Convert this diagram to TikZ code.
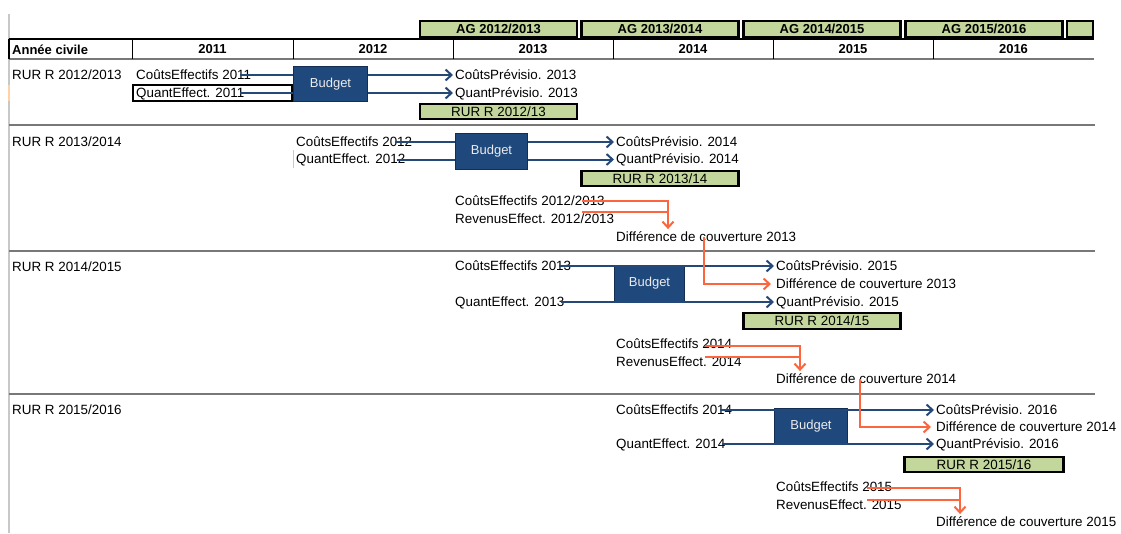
\documentclass[tikz,border=0pt]{standalone}
\usepackage{fontspec}
\setmainfont{Liberation Sans}
\usetikzlibrary{arrows.meta}

\definecolor{agreen}{RGB}{195,214,155}
\definecolor{budfill}{RGB}{31,73,125}
\definecolor{budline}{RGB}{20,45,82}
\definecolor{flowblue}{RGB}{36,72,120}
\definecolor{gaporange}{RGB}{252,102,62}
\definecolor{rulegray}{RGB}{120,120,120}
\definecolor{edgegray}{RGB}{200,200,200}

\tikzset{
  % glyphs are dropped a little so that the mid anchor sits on their visual centre
  txt/.style={anchor=mid west, inner sep=0pt,
    execute at begin node={\lower1.5pt\hbox\bgroup\fontsize{13.4}{16}\selectfont},
    execute at end node={\egroup}},
  hdr/.style={inner sep=0pt, font=\bfseries\fontsize{13}{15}\selectfont},
  agbox/.style={draw=black, line width=2.2pt, fill=agreen, inner sep=0pt,
    minimum width=157pt, minimum height=16pt, font=\bfseries\fontsize{13}{15}\selectfont},
  rurbox/.style={draw=black, line width=2.2pt, fill=agreen, inner sep=0pt,
    minimum width=157pt, minimum height=15pt, font=\fontsize{13.4}{16}\selectfont},
  budget/.style={draw=budline, line width=1.2pt, fill=budfill, text=white!92!black,
    inner sep=0pt, font=\fontsize{13}{15}\selectfont},
  flowline/.style={draw=flowblue, line width=2pt},
  flowarrow/.style={flowline, -{Straight Barb[length=6pt,width=11pt]}, shorten >=2pt},
  gapline/.style={draw=gaporange, line width=2pt},
  gaparrow/.style={gapline, -{Straight Barb[length=6pt,width=11pt]}, shorten >=2pt},
  sep/.style={draw=rulegray, line width=1.3pt},
}

\begin{document}
\begin{tikzpicture}[x=1pt,y=-1pt]
\useasboundingbox (0,0) rectangle (1121,533);

% ---------- frame and calendar header ----------
\draw[edgegray, line width=1.5pt] (9,14) -- (9,533);
\draw[orange!35, line width=1.5pt] (9,85) -- (9,101);
\draw[black, line width=1.2pt] (9,39) -- (1094,39);
\draw[rulegray, line width=2pt] (9,59) -- (1094,59);
\draw[black, line width=1.2pt] (9,39) -- (9,59);
\foreach \cx in {132,293,453,613,773,933}
  \draw[black, line width=1pt] (\cx,39) -- (\cx,59);

\node[hdr, anchor=west] (hyear) at (12,49.5) {Année civile};
\node[hdr] (y11) at (212.5,49.5) {2011};
\node[hdr] (y12) at (373,49.5) {2012};
\node[hdr] (y13) at (533,49.5) {2013};
\node[hdr] (y14) at (693,49.5) {2014};
\node[hdr] (y15) at (853,49.5) {2015};
\node[hdr] (y16) at (1013.5,49.5) {2016};

% academic years
\node[agbox] (ag1) at (498.5,29) {AG 2012/2013};
\node[agbox] (ag2) at (660,29) {AG 2013/2014};
\node[agbox] (ag3) at (822,29) {AG 2014/2015};
\node[agbox] (ag4) at (984,29) {AG 2015/2016};
\node[agbox, minimum width=26pt] (ag5) at (1080,29) {};

% section rules
\draw[sep] (9,125) -- (1095,125);
\draw[sep] (9,251) -- (1095,251);
\draw[sep] (9,394) -- (1095,394);

% ---------- RUR R 2012/2013 ----------
\node[txt] (sec1) at (12,75) {RUR R 2012/2013};
\node[txt] (ce11) at (136,75) {CoûtsEffectifs 2011};
\node[txt] (qe11) at (136,93) {QuantEffect. 2011};
\draw[black, line width=2pt] (133,85) rectangle (292,101);
\node[budget, minimum width=74pt, minimum height=35pt] (bud1) at (330.5,84) {Budget};
\node[txt] (cp13) at (455,75) {CoûtsPrévisio. 2013};
\node[txt] (qp13) at (455,93) {QuantPrévisio. 2013};
\node[rurbox] (rur1) at (498.5,111.5) {RUR R 2012/13};

\coordinate (s1a) at ([xshift=104pt]ce11.mid west);
\coordinate (s1b) at ([xshift=104pt]qe11.mid west);
\draw[flowline] (s1a) -- (s1a -| bud1.west);
\draw[flowline] (s1b) -- (s1b -| bud1.west);
\draw[flowarrow] (bud1.east |- cp13.mid west) -- (cp13.mid west);
\draw[flowarrow] (bud1.east |- qp13.mid west) -- (qp13.mid west);

% ---------- RUR R 2013/2014 ----------
\node[txt] (sec2) at (12,142) {RUR R 2013/2014};
\node[txt] (ce12) at (296,142) {CoûtsEffectifs 2012};
\node[txt] (qe12) at (296,159.5) {QuantEffect. 2012};
\draw[edgegray, line width=1pt] (293.5,150) -- (293.5,168);
\node[budget, minimum width=72pt, minimum height=36pt] (bud2) at (491.5,151.5) {Budget};
\node[txt] (cp14) at (616,142) {CoûtsPrévisio. 2014};
\node[txt] (qp14) at (616,159.5) {QuantPrévisio. 2014};
\node[rurbox] (rur2) at (660,178.5) {RUR R 2013/14};

\coordinate (s2a) at ([xshift=99pt]ce12.mid west);
\coordinate (s2b) at ([xshift=101pt]qe12.mid west);
\draw[flowline] (s2a) -- (s2a -| bud2.west);
\draw[flowline] (s2b) -- (s2b -| bud2.west);
\draw[flowarrow] (bud2.east |- cp14.mid west) -- (cp14.mid west);
\draw[flowarrow] (bud2.east |- qp14.mid west) -- (qp14.mid west);

\node[txt] (ce1213) at (455,201) {CoûtsEffectifs 2012/2013};
\node[txt] (re1213) at (455,219) {RevenusEffect. 2012/2013};
\node[txt] (dc13a) at (616,237) {Différence de couverture 2013};

\coordinate (o2a) at ([xshift=127pt]ce1213.mid west);
\coordinate (o2b) at ([yshift=-11pt]o2a);
\coordinate (o2v) at ([xshift=52pt]dc13a.mid west);
\draw[gaparrow] (o2a) -| (o2v |- dc13a.north);
\draw[gapline] (o2b) -- (o2b -| o2v);

% ---------- RUR R 2014/2015 ----------
\node[txt] (sec3) at (12,267) {RUR R 2014/2015};
\node[txt] (ce13) at (455,266) {CoûtsEffectifs 2013};
\node[txt] (qe13) at (455,302) {QuantEffect. 2013};
\node[budget, minimum width=70pt, minimum height=36pt] (bud3) at (649.5,283.5) {Budget};
\node[txt] (cp15) at (776,266) {CoûtsPrévisio. 2015};
\node[txt] (dc13b) at (776,284) {Différence de couverture 2013};
\node[txt] (qp15) at (776,302) {QuantPrévisio. 2015};
\node[rurbox, minimum height=16pt] (rur3) at (822,321) {RUR R 2014/15};

\coordinate (s3a) at ([xshift=104pt]ce13.mid west);
\coordinate (s3b) at ([xshift=106pt]qe13.mid west);
\draw[flowarrow] (s3a) -- (cp15.mid west);
\draw[flowarrow] (s3b) -- (qp15.mid west);

\coordinate (o3s) at ([xshift=88pt]dc13a.mid west);
\draw[gaparrow, shorten >=5pt] (o3s) |- (dc13b.mid west);

\node[txt] (ce14a) at (616,344) {CoûtsEffectifs 2014};
\node[txt] (re14) at (616,362) {RevenusEffect. 2014};
\node[txt] (dc14a) at (776,379) {Différence de couverture 2014};

\coordinate (o4a) at ([xshift=89pt,yshift=-1.5pt]ce14a.mid west);
\coordinate (o4b) at ([yshift=-11pt]o4a);
\coordinate (o4v) at ([xshift=24pt]dc14a.mid west);
\draw[gaparrow] (o4a) -| (o4v |- dc14a.north);
\draw[gapline] (o4b) -- (o4b -| o4v);

% ---------- RUR R 2015/2016 ----------
\node[txt] (sec4) at (12,410) {RUR R 2015/2016};
\node[txt] (ce14b) at (616,410) {CoûtsEffectifs 2014};
\node[txt] (qe14) at (616,444) {QuantEffect. 2014};
\node[budget, minimum width=73pt, minimum height=35pt] (bud4) at (811,426) {Budget};
\node[txt] (cp16) at (936,410) {CoûtsPrévisio. 2016};
\node[txt] (dc14b) at (936,427) {Différence de couverture 2014};
\node[txt] (qp16) at (936,444) {QuantPrévisio. 2016};
\node[rurbox, minimum width=159pt] (rur4) at (984,464.5) {RUR R 2015/16};

\coordinate (s4a) at ([xshift=104pt]ce14b.mid west);
\coordinate (s4b) at ([xshift=106pt]qe14.mid west);
\draw[flowarrow] (s4a) -- (cp16.mid west);
\draw[flowarrow] (s4b) -- (qp16.mid west);

\coordinate (o5s) at ([xshift=84pt]dc14a.mid west);
\draw[gaparrow, shorten >=5pt] (o5s) |- (dc14b.mid west);

\node[txt] (ce15) at (776,487) {CoûtsEffectifs 2015};
\node[txt] (re15) at (776,505) {RevenusEffect. 2015};
\node[txt] (dc15) at (936,522) {Différence de couverture 2015};

\coordinate (o6a) at ([xshift=91pt,yshift=-1pt]ce15.mid west);
\coordinate (o6b) at ([yshift=-12pt]o6a);
\coordinate (o6v) at ([xshift=24pt]dc15.mid west);
\draw[gaparrow] (o6a) -| (o6v |- dc15.north);
\draw[gapline] (o6b) -- (o6b -| o6v);

\end{tikzpicture}
\end{document}
